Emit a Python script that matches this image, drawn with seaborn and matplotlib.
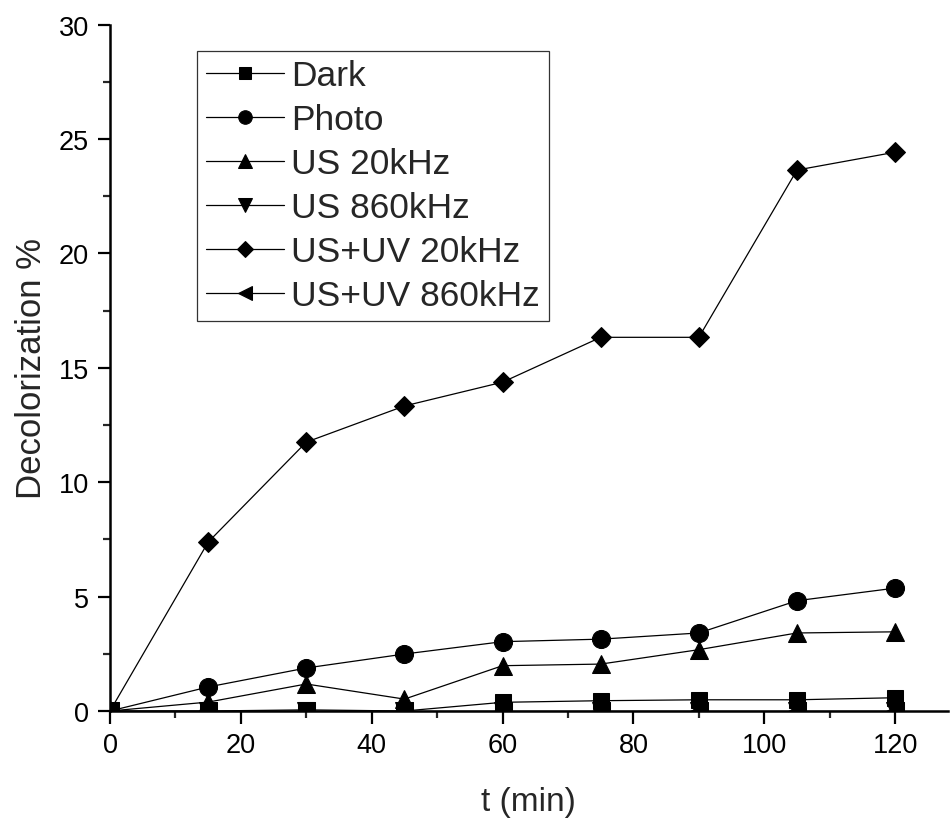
import matplotlib
matplotlib.use("Agg")
import matplotlib.pyplot as plt
import seaborn as sns
import pandas as pd
from matplotlib.ticker import MultipleLocator

# Decolorization (%) versus irradiation/sonication time
time_min = [0, 15, 30, 45, 60, 75, 90, 105, 120]
dark = [0, 0, 0.05, 0, 0.38, 0.45, 0.49, 0.49, 0.58]
photo = [0, 1.05, 1.88, 2.49, 3.03, 3.14, 3.41, 4.82, 5.37]
us_20 = [0, 0.39, 1.18, 0.52, 1.98, 2.05, 2.68, 3.41, 3.46]
us_860 = [0, 0, 0, 0, 0, 0, 0, 0, 0]
usuv_20 = [0, 7.38, 11.75, 13.33, 14.37, 16.33, 16.33, 23.64, 24.42]
usuv_860 = [0, 0, 0, 0, 0, 0, 0, 0, 0]

series_names = ["Dark", "Photo", "US 20kHz", "US 860kHz", "US+UV 20kHz", "US+UV 860kHz"]
series_values = [dark, photo, us_20, us_860, usuv_20, usuv_860]
series_markers = ["s", "o", "^", "v", "D", "<"]
series_msize = [11, 13, 13, 13, 10.5, 13]

x_ticks = [0, 20, 40, 60, 80, 100, 120]
y_ticks = [0, 5, 10, 15, 20, 25, 30]

sns.set_theme(style="ticks")
plt.rcParams["font.family"] = ["Liberation Sans", "DejaVu Sans"]

fig = plt.figure(figsize=(9.51, 8.20), dpi=100)
ax = fig.add_axes([110 / 951, 1 - 712 / 820, 837.5 / 951, 686.5 / 820])

for name, vals, mk, ms in zip(series_names, series_values, series_markers, series_msize):
    df = pd.DataFrame({"t": time_min, "v": vals})
    sns.lineplot(data=df, x="t", y="v", ax=ax, color="black", linewidth=0.9,
                 marker=mk, markersize=ms, markeredgecolor="black",
                 markerfacecolor="black", label=name, sort=False, zorder=3)

ax.set_xlim(0, 128)
ax.set_ylim(0, 30)
ax.set_xticks(x_ticks)
ax.set_yticks(y_ticks)
ax.xaxis.set_minor_locator(MultipleLocator(10))
ax.yaxis.set_minor_locator(MultipleLocator(2.5))
ax.tick_params(which="major", direction="out", length=9, width=1.6,
               labelsize=19.5, colors="black", pad=6)
ax.tick_params(which="minor", direction="out", length=5, width=1.6)

for side in ("top", "right"):
    ax.spines[side].set_visible(False)
for side in ("left", "bottom"):
    ax.spines[side].set_linewidth(1.8)
    ax.spines[side].set_color("black")

ax.set_xlabel("t (min)", fontsize=24, labelpad=20)
ax.set_ylabel("Decolorization %", fontsize=25, labelpad=8)

leg = ax.legend(loc="upper left", bbox_to_anchor=(0.104, 0.962), fontsize=25.5,
                frameon=True, fancybox=False, edgecolor="black",
                handlelength=2.2, handletextpad=0.2, labelspacing=0.31,
                borderpad=0.25, borderaxespad=0, markerscale=0.75)
leg.get_frame().set_linewidth(0.9)

fig.savefig("out.png", dpi=100, facecolor="white")
